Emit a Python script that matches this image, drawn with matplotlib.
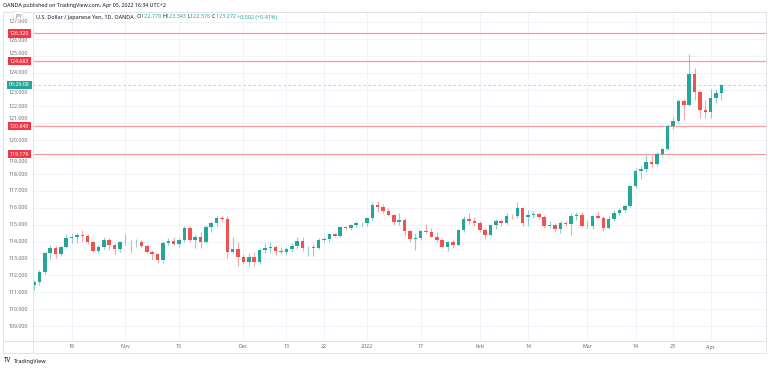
import matplotlib
matplotlib.use("Agg")
import matplotlib.pyplot as plt
import numpy as np
import pandas as pd
from matplotlib.lines import Line2D
from matplotlib.transforms import blended_transform_factory

# --- data ------------------------------------------------------------------
dates = pd.bdate_range("2021-10-07", "2022-04-05")

opens = [111.45, 111.60, 112.20, 113.30, 113.60, 113.25, 113.70, 114.20, 114.30, 114.42,
         114.32, 113.97, 113.45, 113.70, 114.12, 113.80, 113.55,
         113.95, 114.00, 113.97, 114.00, 113.75, 113.40, 113.25, 112.90, 113.90, 114.05,
         113.88, 114.10, 114.80, 114.10, 114.25, 114.00, 114.85, 115.10, 115.40, 115.35,
         113.37, 113.57,
         113.10, 112.78, 113.10, 112.80, 113.50, 113.60, 113.70, 113.45, 113.38, 113.55,
         113.72, 114.05, 113.67, 113.70, 113.60, 114.10, 114.15, 114.44, 114.36, 114.88,
         114.80, 114.98, 115.08,
         115.10, 115.38, 116.15, 116.07, 115.80, 115.55, 115.18, 115.30, 114.63, 114.16,
         114.20, 114.63, 114.58, 114.30, 114.12, 113.67, 113.97, 113.82, 114.69, 115.34,
         115.24,
         115.10, 114.69, 114.40, 114.99, 115.20, 115.09, 115.54, 115.50, 115.98, 115.47,
         115.55, 115.62, 115.45, 114.90, 115.00, 114.75, 115.09, 115.02, 115.54, 115.58,
         114.95, 114.90, 115.50, 115.42, 114.83, 115.33, 115.71, 115.88, 116.13, 117.30,
         118.20, 118.28, 118.73, 118.60, 119.17, 119.47, 120.85, 121.14, 122.34, 122.09,
         123.92, 122.84, 121.79,
         121.66, 122.52, 122.770]
highs = [111.75, 112.30, 113.40, 113.80, 113.75, 113.75, 114.45, 114.45, 114.50, 114.70,
         114.45, 114.05, 113.80, 114.30, 114.20, 113.90, 114.05,
         114.45, 114.10, 114.15, 114.10, 113.85, 113.50, 113.35, 114.00, 114.20, 114.30,
         114.20, 114.95, 114.95, 114.45, 114.55, 115.00, 115.20, 115.50, 115.50, 115.50,
         114.25, 113.95,
         113.25, 113.30, 113.40, 113.60, 113.90, 113.95, 113.80, 113.70, 113.70, 113.90,
         114.25, 114.25, 113.75, 113.85, 114.20, 114.30, 114.50, 114.50, 114.90, 114.95,
         115.05, 115.20, 115.15,
         115.45, 116.35, 116.40, 116.20, 116.00, 115.65, 115.70, 115.40, 114.70, 114.50,
         114.70, 115.05, 114.80, 114.55, 114.20, 114.05, 114.15, 114.75, 115.50, 115.70,
         115.45,
         115.20, 114.80, 115.05, 115.35, 115.35, 115.70, 115.65, 116.35, 116.05, 115.90,
         115.80, 115.75, 115.55, 115.20, 115.10, 115.20, 115.25, 115.70, 115.75, 115.75,
         115.20, 115.55, 115.80, 115.50, 115.50, 115.85, 116.00, 116.25, 117.35, 118.35,
         118.45, 119.10, 119.10, 119.30, 119.55, 120.95, 121.40, 122.45, 122.45, 125.09,
         124.30, 123.00, 122.40,
         123.05, 123.05, 123.343]
lows = [111.15, 111.45, 112.10, 112.95, 113.05, 113.15, 113.65, 113.90, 113.90, 114.05,
        113.85, 113.40, 113.30, 113.55, 113.50, 113.25, 113.40,
        113.80, 113.35, 113.70, 113.60, 113.30, 112.90, 112.75, 112.75, 113.80, 113.80,
        113.70, 114.00, 114.00, 113.60, 113.60, 113.90, 114.55, 114.90, 115.20, 113.05,
        113.30, 112.55,
        112.70, 112.55, 112.55, 112.70, 113.30, 113.30, 113.20, 113.25, 113.20, 113.40,
        113.60, 113.45, 113.15, 113.15, 113.55, 113.95, 114.00, 114.30, 114.30, 114.70,
        114.70, 114.85, 114.85,
        114.95, 115.30, 115.75, 115.70, 115.50, 115.00, 115.00, 114.40, 114.00, 113.50,
        114.10, 114.50, 114.25, 113.95, 113.60, 113.45, 113.60, 113.75, 114.55, 115.05,
        114.95,
        114.55, 114.15, 114.35, 114.75, 114.90, 115.05, 115.35, 115.40, 114.90, 114.95,
        115.40, 115.35, 114.80, 114.80, 114.60, 114.50, 114.90, 114.40, 115.30, 114.85,
        114.80, 114.75, 115.35, 114.65, 114.75, 115.20, 115.60, 115.75, 116.05, 117.20,
        117.70, 118.15, 118.40, 118.50, 119.05, 119.40, 120.65, 121.00, 121.20, 122.00,
        122.40, 121.30, 121.30,
        121.30, 122.20, 122.376]
closes = [111.60, 112.20, 113.35, 113.60, 113.25, 113.70, 114.20, 114.30, 114.38, 114.32,
          113.97, 113.45, 113.70, 114.12, 113.80, 113.55, 113.95,
          114.00, 113.97, 114.00, 113.75, 113.40, 113.25, 112.90, 113.90, 114.05, 113.88,
          114.10, 114.80, 114.10, 114.25, 114.00, 114.85, 115.10, 115.40, 115.35, 113.37,
          113.57, 113.10,
          112.78, 113.10, 112.80, 113.50, 113.60, 113.70, 113.45, 113.38, 113.55, 113.72,
          114.05, 113.65, 113.70, 113.60, 114.10, 114.15, 114.44, 114.36, 114.88, 114.80,
          114.98, 115.08, 115.10,
          115.38, 116.15, 116.07, 115.80, 115.55, 115.18, 115.30, 114.63, 114.16, 114.20,
          114.63, 114.58, 114.30, 114.12, 113.67, 113.97, 113.82, 114.69, 115.34, 115.24,
          115.10,
          114.69, 114.40, 114.99, 115.20, 115.09, 115.54, 115.50, 115.98, 115.09, 115.55,
          115.62, 115.45, 114.90, 115.00, 114.75, 115.09, 115.02, 115.54, 115.58, 114.95,
          114.90, 115.50, 115.42, 114.83, 115.33, 115.71, 115.88, 116.13, 117.30, 118.20,
          118.28, 118.73, 118.60, 119.17, 119.47, 120.85, 121.14, 122.34, 122.09, 123.92,
          122.84, 121.79, 121.66,
          122.52, 122.770, 123.272]

levels = [126.320, 124.683, 120.840, 119.179]
last_price = 123.272
price_ticks = list(range(109, 128))
tick_dates = ["2021-10-18", "2021-11-01", "2021-11-15", "2021-12-01", "2021-12-13",
              "2021-12-22", "2022-01-03", "2022-01-17", "2022-02-01", "2022-02-14",
              "2022-03-01", "2022-03-14", "2022-03-23", "2022-04-01"]
tick_labels = ["18", "Nov", "15", "Dec", "13", "22", "2022", "17", "Feb", "14",
               "Mar", "14", "23", "Apr"]

# --- style -----------------------------------------------------------------
UP = "#26a69a"
DOWN = "#ef5350"
LEVEL = "#f23645"
GRID = "#f0f3fa"
FRAME = "#e0e3eb"
TXT = "#131722"
AXT = "#6a6d78"

W, H = 768, 368
plt.rcParams["font.family"] = ["Noto Sans", "DejaVu Sans"]

fig = plt.figure(figsize=(W / 100, H / 100), dpi=100)
fig.patch.set_facecolor("white")


def fx(px):
    return px / W


def fy(py):
    return 1 - py / H


# chart pane: x 33..766, y 12..341 (pixels)
ax = fig.add_axes([fx(33), fy(341), fx(766) - fx(33), fy(12) - fy(341)])
for s in ax.spines.values():
    s.set_visible(False)

n = len(dates)
xs = np.arange(n)
o = np.array(opens)
h = np.array(highs)
l = np.array(lows)
c = np.array(closes)
up = c >= o
cols = np.where(up, UP, DOWN)

ax.set_xlim(-0.19, 136.3)
ax.set_ylim(108.12, 127.59)

xpos = [dates.get_loc(pd.Timestamp(d)) for d in tick_dates]
ax.set_xticks(xpos)
ax.set_yticks(price_ticks)
ax.tick_params(length=0, labelleft=False, labelbottom=False)
ax.grid(color=GRID, lw=0.7)
ax.set_axisbelow(True)

# wicks and bodies
ax.vlines(xs, l, h, colors=cols, lw=0.8, alpha=0.5, zorder=2)
body_h = np.maximum(np.abs(c - o), 0.035)
ax.bar(xs, body_h, bottom=np.minimum(o, c), width=0.66, color=cols, lw=0, zorder=3)

# horizontal levels
for lv in levels:
    ax.axhline(lv, color=LEVEL, lw=0.9, alpha=0.5, zorder=1)
ax.axhline(last_price, color=UP, lw=0.6, ls=(0, (3, 3)), alpha=0.45, zorder=1)

# price axis labels (nudged away from the level tags so they stay readable)
tr = blended_transform_factory(fig.transFigure, ax.transData)
tags = levels + [last_price]
gap = 0.43
for p in price_ticks:
    yp = p
    for lv in tags:
        if abs(p - lv) < gap:
            yp = lv + gap if p > lv else lv - gap
    ax.text(fx(18), yp, f"{p:.3f}", transform=tr, ha="center", va="center",
            fontsize=3.8, color=AXT, clip_on=False)
for lv in levels:
    ax.text(fx(19.5), lv, f"{lv:.3f}", transform=tr, ha="center", va="center",
            fontsize=3.8, color="white", clip_on=False, zorder=5,
            bbox=dict(boxstyle="square,pad=0.35", fc=LEVEL, ec="none"))
ax.text(fx(19.5), last_price, "06:29:08", transform=tr, ha="center", va="center",
        fontsize=3.8, color="white", clip_on=False, zorder=5,
        bbox=dict(boxstyle="square,pad=0.35", fc=UP, ec="none"))

# time axis labels
trx = blended_transform_factory(ax.transData, fig.transFigure)
for xp, lab in zip(xpos, tick_labels):
    ax.text(xp, fy(347), lab, transform=trx, ha="center", va="center",
            fontsize=3.8, color=AXT, clip_on=False)

# frame lines
for (x0, y0, x1, y1) in [(3, 12, 766, 12), (3, 341, 766, 341), (3, 353, 766, 353),
                         (3, 12, 3, 353), (33, 12, 33, 353), (766, 12, 766, 353)]:
    fig.add_artist(Line2D([fx(x0), fx(x1)], [fy(y0), fy(y1)], color=FRAME, lw=0.7))

# top text
fig.text(fx(3), fy(5), "OANDA published on TradingView.com, Apr 05, 2022 16:34 UTC+2",
         fontsize=3.8, color=TXT, va="center", ha="left")

# JPY box
fig.text(fx(18.5), fy(15.5), "JPY", fontsize=3.3, color=AXT, ha="center", va="center",
         bbox=dict(boxstyle="round,pad=0.35", fc="white", ec=FRAME, lw=0.5))

# legend line, drawn piece by piece
pieces = [("U.S. Dollar / Japanese Yen, 1D, OANDA  ", TXT), ("O", TXT), ("122.770 ", UP),
          ("H", TXT), ("123.343 ", UP), ("L", TXT), ("122.376 ", UP), ("C", TXT),
          ("123.272 ", UP), ("+0.502 (+0.41%)", UP)]
fig.canvas.draw()
renderer = fig.canvas.get_renderer()
xcur = 36
for txt, col in pieces:
    t = fig.text(fx(xcur), fy(17), txt, fontsize=3.9, color=col, va="center", ha="left")
    xcur += t.get_window_extent(renderer).width

# logo
fig.text(fx(4), fy(361), "TV", fontsize=4.5, weight="bold", color=TXT, va="center")
fig.text(fx(14), fy(361), "TradingView", fontsize=4, color=TXT, va="center")

fig.savefig("out.png", dpi=100)
